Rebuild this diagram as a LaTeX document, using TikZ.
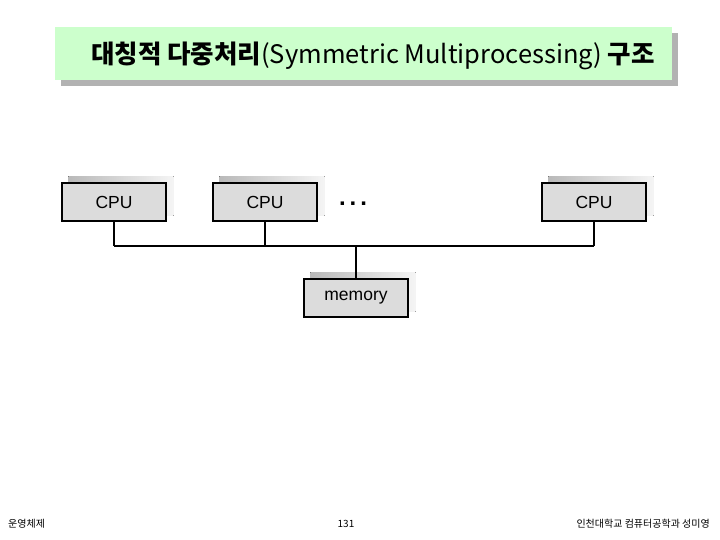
\documentclass[tikz,border=0pt]{standalone}
\usepackage{fontspec}
\setmainfont{Liberation Sans}
\newfontfamily\krfont{Noto Sans CJK KR}
\usepackage{tikz}
\usetikzlibrary{backgrounds}

\definecolor{titlegreen}{HTML}{CCFFCC}
\definecolor{boxgray}{HTML}{DCDCDC}

\begin{document}
\begin{tikzpicture}[
  x=1pt, y=-1pt,
  unit/.style={draw, line width=1.4pt, fill=boxgray, minimum width=104pt,
               minimum height=38pt, inner sep=0pt, font=\fontsize{17.5}{20}\selectfont},
  shade/.style={left color=gray!55, right color=gray!8},
  bus/.style={line width=2.2pt},
  link/.style={line width=1.5pt},
  foot/.style={font=\krfont\fontsize{10}{12}\selectfont, inner sep=0pt}
]
\useasboundingbox (0,0) rectangle (720,540);
% title band
\fill[gray!60] (61,33) rectangle (678,86);
\fill[titlegreen] (55,27) rectangle (672,80);
\node[font=\krfont\fontsize{25.5}{28}\selectfont, inner sep=0pt] (title) at (373,56)
      {{\bfseries 대칭적 다중처리}(Symmetric Multiprocessing) {\bfseries 구조}};
% processors and memory
\node[unit] (cpu1) at (114,202) {CPU};
\node[unit] (cpu2) at (265,202) {CPU};
\node[unit] (cpu3) at (594,202) {CPU};
\node[font=\bfseries\fontsize{24}{28}\selectfont, inner sep=0pt] (dots) at (353,204) {.\hspace{4pt}.\hspace{4pt}.};
\node[unit] (mem) at (356,298) {memory};
\begin{scope}[on background layer]
  \foreach \n in {cpu1, cpu2, cpu3, mem}
    \fill[shade] ([xshift=7pt,yshift=6pt]\n.south west) rectangle ([xshift=7pt,yshift=6pt]\n.north east);
\end{scope}
% bus
\coordinate (busl) at (cpu1 |- 0,246);
\coordinate (busr) at (cpu3 |- 0,246);
\draw[bus] (busl) -- (busr);
\draw[link] (cpu1) -- (busl);
\draw[link] (cpu2) -- (cpu2 |- busl);
\draw[link] (cpu3) -- (busr);
\draw[link] (mem) -- (mem |- busl);
% footer
\node[foot, anchor=west] (os) at (8,524) {운영체제};
\node[foot] (page) at (346,524) {131};
\node[foot, anchor=east] (author) at (710,524) {인천대학교 컴퓨터공학과 성미영};
\end{tikzpicture}
\end{document}
